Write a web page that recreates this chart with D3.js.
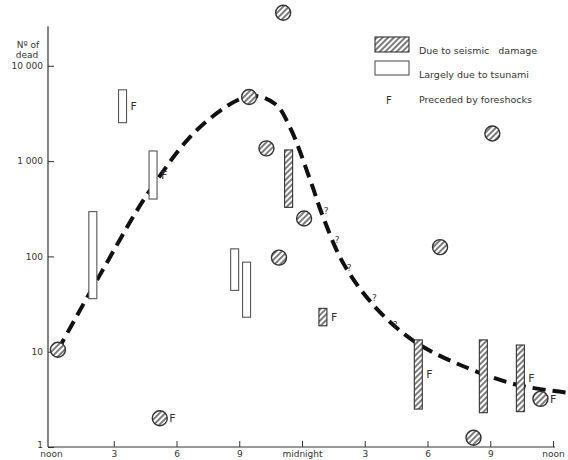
<!DOCTYPE html>
<html>
<head>
<meta charset="utf-8">
<script src="https://cdn.jsdelivr.net/npm/d3@7/dist/d3.min.js"></script>
<style>
  html, body { margin: 0; padding: 0; background: #fff; }
  svg { display: block; }
  text { font-family: "DejaVu Sans", sans-serif; fill: #333; }
</style>
</head>
<body>
<svg id="chart" width="568" height="460"></svg>
<script>
// ---- Data (hours after noon, number of dead) ----
const hourTicks  = [0, 3, 6, 9, 12, 15, 18, 21, 24];
const hourLabels = ["noon", "3", "6", "9", "midnight", "3", "6", "9", "noon"];
const deadTicks  = [1, 10, 100, 1000, 10000];
const deadLabels = ["1", "10", "100", "1 000", "10 000"];

// Single events due to seismic damage (hatched circles)
const circleHours = [0.33, 5.2, 11.1, 9.47, 10.3, 12.1, 10.9, 21.1, 18.6, 20.2, 23.4];
const circleDead  = [10.5, 2.0, 36000, 4700, 1360, 250, 97, 1950, 125, 1.25, 3.2];
const circleFore  = [false, true, false, false, false, false, false, false, false, false, true];

// Ranges largely due to tsunami (open bars)
const tsunamiHours = [3.42, 4.88, 2.0, 8.78, 9.35];
const tsunamiLow   = [2530, 400, 36, 44, 23];
const tsunamiHigh  = [5600, 1277, 295, 120, 87];
const tsunamiFore  = [true, true, false, false, false];

// Ranges due to seismic damage (hatched bars)
const seismicHours = [11.36, 13.0, 17.56, 20.67, 22.44];
const seismicLow   = [327, 18.7, 2.5, 2.29, 2.35];
const seismicHigh  = [1310, 28.5, 13.3, 13.3, 11.75];
const seismicFore  = [false, true, true, false, true];

// Dashed trend curve
const curveHours = [0.33, 2.34, 4.74, 7.13, 9.52, 10.72, 11.44, 12.39, 13.01, 13.97, 15.5, 17.42, 19.95, 22.34, 24.74];
const curveDead  = [10.4, 64, 497, 2280, 4820, 3970, 2225, 635, 259, 85, 29.4, 12.6, 6.7, 4.47, 3.7];

// Question marks along the uncertain part of the curve
const queryHours = [13.06, 13.59, 14.16, 15.36, 16.36];
const queryDead  = [299, 149, 75.5, 36.6, 19];

// ---- Scales ----
const svg = d3.select("#chart");
const x = d3.scaleLinear().domain([0, 24]).range([51, 553]);
const y = d3.scaleLog().domain([1, 10000]).range([447, 65.8]);
const axisX = x(0) - 3;

const defs = svg.append("defs");
const pat = defs.append("pattern").attr("id", "hatch")
  .attr("patternUnits", "userSpaceOnUse").attr("width", 4).attr("height", 4)
  .attr("patternTransform", "rotate(45)");
pat.append("rect").attr("width", 4).attr("height", 4).attr("fill", "#fff");
pat.append("line").attr("x1", 1).attr("y1", 0).attr("x2", 1).attr("y2", 4)
  .attr("stroke", "#444").attr("stroke-width", 1.4);

// ---- Axes ----
const gx = svg.append("g").attr("transform", `translate(0,${y(1)})`)
  .call(d3.axisBottom(x).tickValues(hourTicks)
    .tickFormat((d, i) => hourLabels[i]).tickSize(-6).tickSizeOuter(0).tickPadding(4));
gx.select(".domain").remove();
gx.selectAll(".tick").filter(d => d === 0).select("line").remove();
gx.selectAll("text").attr("font-size", 9).attr("font-family", "DejaVu Sans").attr("fill", "#333");
gx.selectAll("line").attr("stroke", "#333");
svg.append("line").attr("x1", axisX).attr("x2", x(24) + 2)
  .attr("y1", y(1)).attr("y2", y(1)).attr("stroke", "#333").attr("stroke-width", 1.2);

const gy = svg.append("g").attr("transform", `translate(${axisX},0)`)
  .call(d3.axisLeft(y).tickValues(deadTicks)
    .tickFormat((d, i) => deadLabels[i]).tickSize(-6).tickSizeOuter(0).tickPadding(5));
gy.select(".domain").remove();
gy.selectAll("text").attr("font-size", 9).attr("font-family", "DejaVu Sans").attr("fill", "#333");
gy.selectAll(".tick").filter(d => d === 1).select("text").attr("dy", "0.1em");
gy.selectAll("line").attr("stroke", "#333");
svg.append("line").attr("x1", axisX).attr("x2", axisX)
  .attr("y1", y(1)).attr("y2", y(26000)).attr("stroke", "#333").attr("stroke-width", 1.2);

svg.append("text").attr("x", 28).attr("y", 48).attr("text-anchor", "middle")
  .attr("font-size", 9).text("Nº of");
svg.append("text").attr("x", 27).attr("y", 57.5).attr("text-anchor", "middle")
  .attr("font-size", 9).text("dead");

// ---- Curve ----
const line = d3.line().x(d => x(d[0])).y(d => y(d[1])).curve(d3.curveCatmullRom.alpha(0.5));
svg.append("path").datum(curveHours.map((h, i) => [h, curveDead[i]]))
  .attr("d", line).attr("fill", "none").attr("stroke", "#111")
  .attr("stroke-width", 4).attr("stroke-dasharray", "13,7");

svg.selectAll("text.query").data(queryHours).enter().append("text")
  .attr("class", "query").attr("x", (d) => x(d) + 2).attr("y", (d, i) => y(queryDead[i]) + 3)
  .attr("font-size", 9).attr("text-anchor", "middle").attr("fill", "#222").text("?");

// ---- Bars ----
const barW = 8;
function drawBars(hours, low, high, fore, fill, stroke) {
  hours.forEach((h, i) => {
    const x0 = x(h) - barW / 2, y0 = y(high[i]), y1 = y(low[i]);
    svg.append("rect").attr("x", x0).attr("y", y0).attr("width", barW).attr("height", y1 - y0)
      .attr("fill", fill).attr("stroke", stroke).attr("stroke-width", 1.1);
    if (fore[i]) {
      svg.append("text").attr("x", x0 + barW + 4).attr("y", (y0 + y1) / 2 + 4)
        .attr("font-size", 11).attr("fill", "#222").text("F");
    }
  });
}
drawBars(tsunamiHours, tsunamiLow, tsunamiHigh, tsunamiFore, "#fff", "#555");
drawBars(seismicHours, seismicLow, seismicHigh, seismicFore, "url(#hatch)", "#333");

// ---- Circles ----
const r = 7.5;
circleHours.forEach((h, i) => {
  const cx = x(h), cy = y(circleDead[i]);
  svg.append("circle").attr("cx", cx).attr("cy", cy).attr("r", r)
    .attr("fill", "url(#hatch)").attr("stroke", "#333").attr("stroke-width", 1.4);
  if (circleFore[i]) {
    svg.append("text").attr("x", cx + r + 2).attr("y", cy + 4).attr("font-size", 11)
      .attr("fill", "#222").text("F");
  }
});

// ---- Legend ----
const lg = svg.append("g");
lg.append("rect").attr("x", 375).attr("y", 37).attr("width", 34).attr("height", 15)
  .attr("fill", "url(#hatch)").attr("stroke", "#333").attr("stroke-width", 1.1);
lg.append("rect").attr("x", 375).attr("y", 61).attr("width", 34).attr("height", 14)
  .attr("fill", "#fff").attr("stroke", "#555").attr("stroke-width", 1.1);
lg.append("text").attr("x", 389).attr("y", 104).attr("text-anchor", "middle")
  .attr("font-size", 10).attr("fill", "#222").text("F");
lg.append("text").attr("x", 419).attr("y", 54).attr("font-size", 9.5).text("Due to seismic\u00a0\u00a0 damage");
lg.append("text").attr("x", 419).attr("y", 78).attr("font-size", 9.5).text("Largely due to tsunami");
lg.append("text").attr("x", 419).attr("y", 103).attr("font-size", 9.5).text("Preceded by foreshocks");
</script>
</body>
</html>
